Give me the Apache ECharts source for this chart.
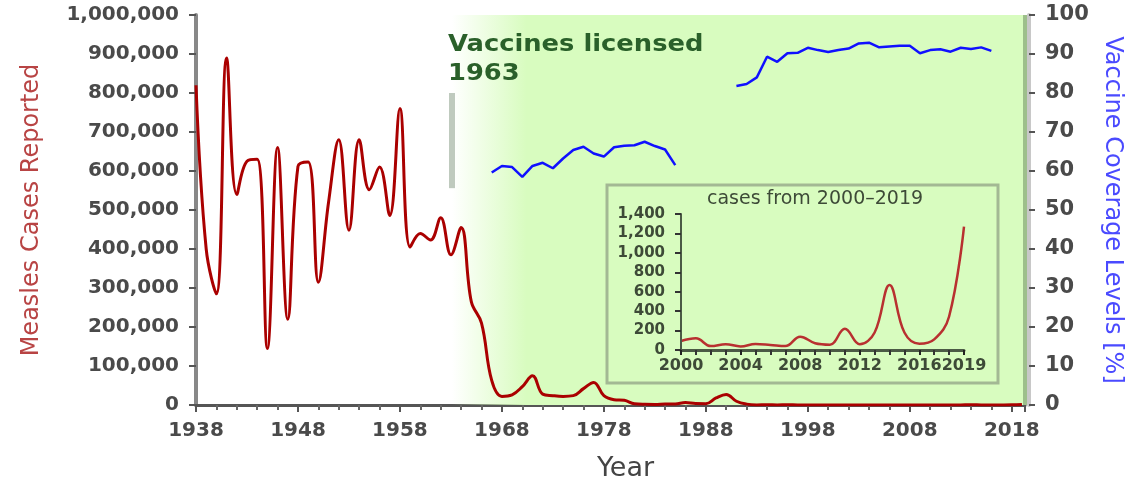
<!DOCTYPE html>
<html><head><meta charset="utf-8">
<script src="https://cdn.jsdelivr.net/npm/echarts@6/dist/echarts.min.js"></script>
<style>html,body{margin:0;padding:0;background:#fff}#c{width:1128px;height:481px}</style>
</head><body><div id="c"></div>
<script>
// ---- data ----
const years = [1938,1939,1940,1941,1942,1943,1944,1945,1946,1947,1948,1949,1950,1951,1952,1953,1954,1955,1956,1957,1958,1959,1960,1961,1962,1963,1964,1965,1966,1967,1968,1969,1970,1971,1972,1973,1974,1975,1976,1977,1978,1979,1980,1981,1982,1983,1984,1985,1986,1987,1988,1989,1990,1991,1992,1993,1994,1995,1996,1997,1998,1999];
const cases = [820000,400000,285000,890000,540000,625000,630000,145000,660000,220000,612000,623000,315000,520000,680000,448000,680000,552000,610000,486000,760000,405000,440000,423000,480000,385000,455000,265000,210000,63000,22000,26000,47000,75000,28000,24000,22000,24000,42000,58000,24000,13600,12000,3100,1700,1500,2600,2800,6300,3700,3400,18000,27000,9600,2200,310,960,300,500,140,100,100];
const insetYears = [2000,2001,2002,2003,2004,2005,2006,2007,2008,2009,2010,2011,2012,2013,2014,2015,2016,2017,2018,2019];
const insetCases = [93,120,40,60,37,62,52,40,137,70,55,218,58,180,669,180,65,110,345,1270];
const coverageYearsA = [1967,1968,1969,1970,1971,1972,1973,1974,1975,1976,1977,1978,1979,1980,1981,1982,1983,1984,1985];
const coverageA = [59.6,61.3,61.0,58.5,61.3,62.1,60.7,63.2,65.4,66.2,64.5,63.7,66.1,66.5,66.6,67.5,66.4,65.5,61.5];
const coverageYearsB = [1991,1992,1993,1994,1995,1996,1997,1998,1999,2000,2001,2002,2003,2004,2005,2006,2007,2008,2009,2010,2011,2012,2013,2014,2015,2016];
const coverageB = [81.8,82.3,84.0,89.3,88.0,90.2,90.3,91.6,91.0,90.5,91.0,91.4,92.7,92.9,91.7,91.9,92.1,92.1,90.2,91.0,91.2,90.6,91.6,91.3,91.7,90.8];
const vaccineYear = 1963.1;
const vaccineBar = [556000, 800000];
const xMax = 2019.3;

// ---- build series data ----
const allYears = years.concat(insetYears);
const allCases = cases.concat(insetCases);
const mainData = allYears.map((y, i) => [y, allCases[i]]);
const insetData = insetYears.map((y, i) => [y, insetCases[i]]);
const coverageData = coverageYearsA.map((y, i) => [y, coverageA[i]])
  .concat([[1988, null]])
  .concat(coverageYearsB.map((y, i) => [y, coverageB[i]]));

const FONT = 'DejaVu Sans';
const GREEN = '#d8fcbf';
const LABEL = '#4a4a4a';
const commas = v => String(v).replace(/\B(?=(\d{3})+(?!\d))/g, ',');

const chart = echarts.init(document.getElementById('c'));
chart.setOption({
  animation: false,
  backgroundColor: '#fff',
  textStyle: { fontFamily: FONT },
  title: [{
    text: 'cases from 2000\u20132019',
    left: 707, top: 190, padding: 0,
    textStyle: { fontFamily: FONT, fontSize: 19, fontWeight: 'normal', color: '#3d4a37' }
  }],
  grid: [
    { left: 196, right: 103, top: 15, bottom: 76, outerBoundsMode: 'none', containLabel: false },
    { left: 681, top: 214, width: 283, height: 136, outerBoundsMode: 'none', containLabel: false }
  ],
  xAxis: [{
    type: 'value', gridIndex: 0, min: 1938, max: xMax, interval: 10,
    axisLine: { lineStyle: { color: '#555', width: 3 } },
    axisTick: { length: 7, lineStyle: { color: '#555', width: 2 } },
    minorTick: { show: true, splitNumber: 5, length: 5, lineStyle: { color: '#666', width: 2 } },
    splitLine: { show: false },
    axisLabel: { margin: 16, fontFamily: FONT, fontSize: 20, fontWeight: 'bold', color: LABEL,
      showMaxLabel: false, formatter: v => String(v) },
    name: 'Year', nameLocation: 'middle', nameGap: 50,
    nameTextStyle: { fontFamily: FONT, fontSize: 27, color: '#444', padding: [0, 0, 0, 30] }
  }, {
    type: 'value', gridIndex: 1, min: 2000, max: 2019, interval: 4, z: 8,
    axisLine: { lineStyle: { color: '#4b5a45', width: 3 } },
    axisTick: { length: 5, lineStyle: { color: '#222', width: 2 } },
    minorTick: { show: true, splitNumber: 4, length: 5, lineStyle: { color: '#333', width: 2 } },
    splitLine: { show: false },
    axisLabel: { margin: 8, fontFamily: FONT, fontSize: 16, fontWeight: 'bold', color: '#3d4a37',
      formatter: v => String(v) }
  }],
  yAxis: [{
    type: 'value', gridIndex: 0, min: 0, max: 1000000, interval: 100000,
    axisLine: { show: true, lineStyle: { color: '#888', width: 4 } },
    axisTick: { show: true, length: 7, lineStyle: { color: '#555', width: 2 } },
    splitLine: { show: false },
    axisLabel: { margin: 17, fontFamily: FONT, fontSize: 20, fontWeight: 'bold', color: LABEL, formatter: commas },
    name: 'Measles Cases Reported', nameLocation: 'middle', nameGap: 152, nameRotate: 90,
    nameTextStyle: { fontFamily: FONT, fontSize: 24, color: '#b84444' }
  }, {
    type: 'value', gridIndex: 0, position: 'right', offset: 4, min: 0, max: 100, interval: 10,
    axisLine: { show: true, lineStyle: { color: '#c8c8c8', width: 4 } },
    axisTick: { show: true, length: 6, lineStyle: { color: '#555', width: 2 } },
    splitLine: { show: false },
    axisLabel: { margin: 16, fontFamily: FONT, fontSize: 21, fontWeight: 'bold', color: LABEL },
    name: 'Vaccine Coverage Levels [%]', nameLocation: 'middle', nameGap: 68, nameRotate: -90,
    nameTextStyle: { fontFamily: FONT, fontSize: 24, color: '#4a4aff' }
  }, {
    type: 'value', gridIndex: 1, min: 0, max: 1400, interval: 200, z: 8,
    axisLine: { show: true, lineStyle: { color: '#4b5a45', width: 2 } },
    axisTick: { show: true, length: 6, lineStyle: { color: '#333', width: 2 } },
    splitLine: { show: false },
    axisLabel: { margin: 16, fontFamily: FONT, fontSize: 15, fontWeight: 'bold', color: '#3d4a37', formatter: commas }
  }],
  graphic: [{
    type: 'rect', z: 3,
    shape: { x: 607, y: 185, width: 391, height: 198 },
    style: { fill: GREEN, stroke: '#a3b894', lineWidth: 3 }
  }, {
    type: 'text', x: 448, y: 34, scaleX: 1.12, z: 4,
    style: { text: 'Vaccines licensed', fontFamily: FONT, fontSize: 23, fontWeight: 'bold', fill: '#2a602a' }
  }, {
    type: 'text', x: 448, y: 63, scaleX: 1.12, z: 4,
    style: { text: String(Math.floor(vaccineYear)), fontFamily: FONT, fontSize: 23, fontWeight: 'bold', fill: '#2a602a' }
  }],
  series: [{
    name: 'Vaccine coverage', type: 'line', xAxisIndex: 0, yAxisIndex: 1, z: 2,
    data: coverageData, connectNulls: false, showSymbol: false, symbol: 'none',
    lineStyle: { color: '#1010ff', width: 2.5 },
    markArea: {
      silent: true,
      itemStyle: { color: { type: 'linear', x: 0, y: 0, x2: 1, y2: 0,
        colorStops: [{ offset: 0, color: 'rgba(216,252,191,0)' }, { offset: 0.13, color: GREEN }, { offset: 1, color: GREEN }] } },
      data: [[{ xAxis: vaccineYear, yAxis: 0 }, { xAxis: xMax, yAxis: 100 }]]
    },
    markLine: {
      silent: true, symbol: 'none', label: { show: false },
      data: [{ xAxis: xMax, lineStyle: { color: '#9dbf8b', width: 4, type: 'solid' } }]
    }
  }, {
    name: 'Measles cases', type: 'line', xAxisIndex: 0, yAxisIndex: 0, z: 3,
    data: mainData, smooth: 0.4, showSymbol: false, symbol: 'none',
    lineStyle: { color: '#aa0000', width: 3 },
    markLine: {
      silent: true, symbol: 'none', label: { show: false },
      data: [[{ coord: [vaccineYear, vaccineBar[0]] }, { coord: [vaccineYear, vaccineBar[1]] }]],
      lineStyle: { color: '#bfcabe', width: 6, type: 'solid' }
    }
  }, {
    name: 'Inset cases', type: 'line', xAxisIndex: 1, yAxisIndex: 2, z: 6,
    data: insetData, smooth: 0.4, showSymbol: false, symbol: 'none',
    lineStyle: { color: '#b83030', width: 2.5 }
  }]
});
</script></body></html>
